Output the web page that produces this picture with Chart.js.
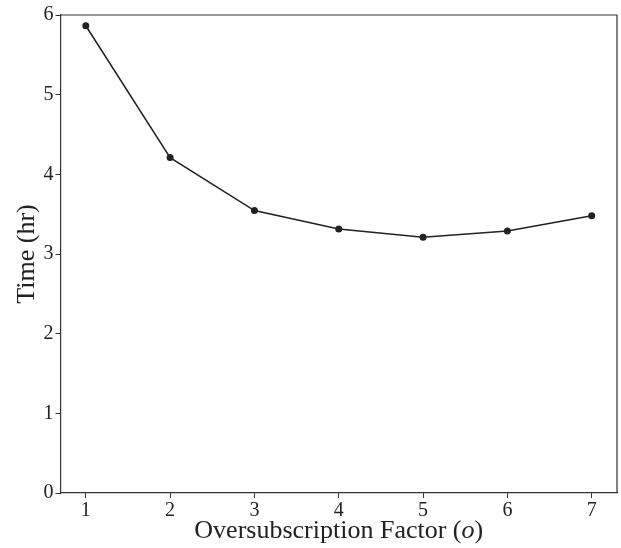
<!DOCTYPE html>
<html>
<head>
<meta charset="utf-8">
<script src="https://cdn.jsdelivr.net/npm/chart.js@4.4.1/dist/chart.umd.min.js"></script>
<style>
  html, body { margin: 0; padding: 0; background: #fff; }
  #wrap { width: 621px; height: 548px; }
</style>
</head>
<body>
<div id="wrap"><canvas id="chart" width="621" height="548"></canvas></div>
<script>
// oversubscription factor vs total time
const factors = [1, 2, 3, 4, 5, 6, 7];
const hours = [5.865, 4.21, 3.545, 3.315, 3.21, 3.29, 3.48];
const xTicks = [1, 2, 3, 4, 5, 6, 7];
const yTicks = [0, 1, 2, 3, 4, 5, 6];

const serif = '"Liberation Serif", "DejaVu Serif", serif';
const ink = '#222';

// top and right frame lines, plus the x title with the italic o
const framePlugin = {
  id: 'frame',
  afterDraw(chart) {
    const { ctx, chartArea: a } = chart;
    ctx.save();
    ctx.strokeStyle = '#333';
    ctx.lineWidth = 1.2;
    ctx.beginPath();
    ctx.moveTo(a.left, a.top);
    ctx.lineTo(a.right, a.top);
    ctx.lineTo(a.right, a.bottom);
    ctx.stroke();

    const parts = [
      { t: 'Oversubscription Factor (', f: '26px ' + serif },
      { t: 'o', f: 'italic 26px ' + serif },
      { t: ')', f: '26px ' + serif }
    ];
    let total = 0;
    parts.forEach(p => { ctx.font = p.f; p.w = ctx.measureText(p.t).width; total += p.w; });
    let x = (a.left + a.right) / 2 - total / 2;
    ctx.fillStyle = ink;
    ctx.textBaseline = 'middle';
    ctx.textAlign = 'left';
    parts.forEach(p => { ctx.font = p.f; ctx.fillText(p.t, x, 531); x += p.w; });
    ctx.restore();
  }
};

new Chart(document.getElementById('chart'), {
  type: 'line',
  data: {
    datasets: [{
      data: factors.map((f, i) => ({ x: f, y: hours[i] })),
      borderColor: ink,
      borderWidth: 1.5,
      pointRadius: 3.5,
      pointBackgroundColor: ink,
      pointBorderColor: ink,
      pointBorderWidth: 0,
      tension: 0
    }]
  },
  options: {
    responsive: false,
    animation: false,
    layout: { padding: { top: 15, right: 4, left: 0, bottom: 0 } },
    plugins: { legend: { display: false }, tooltip: { enabled: false } },
    scales: {
      x: {
        type: 'linear',
        min: 0.7,
        max: 7.3,
        afterBuildTicks: s => { s.ticks = xTicks.map(v => ({ value: v })); },
        afterFit: s => { s.height = 55; },
        grid: { drawOnChartArea: false, drawTicks: true, tickLength: 5, color: '#333', lineWidth: 1 },
        border: { display: true, color: '#333', width: 1.2 },
        ticks: { color: ink, padding: 1, font: { family: serif, size: 20 } }
      },
      y: {
        min: 0,
        max: 6,
        afterBuildTicks: s => { s.ticks = yTicks.map(v => ({ value: v })); },
        afterFit: s => { s.width = 60.5; },
        grid: { drawOnChartArea: false, drawTicks: true, tickLength: 5, color: '#333', lineWidth: 1 },
        border: { display: true, color: '#333', width: 1.2 },
        ticks: { color: ink, padding: 2, font: { family: serif, size: 20 } },
        title: {
          display: true,
          text: 'Time (hr)',
          color: ink,
          padding: { top: 12, bottom: 0 },
          font: { family: serif, size: 26 }
        }
      }
    }
  },
  plugins: [framePlugin]
});
</script>
</body>
</html>
